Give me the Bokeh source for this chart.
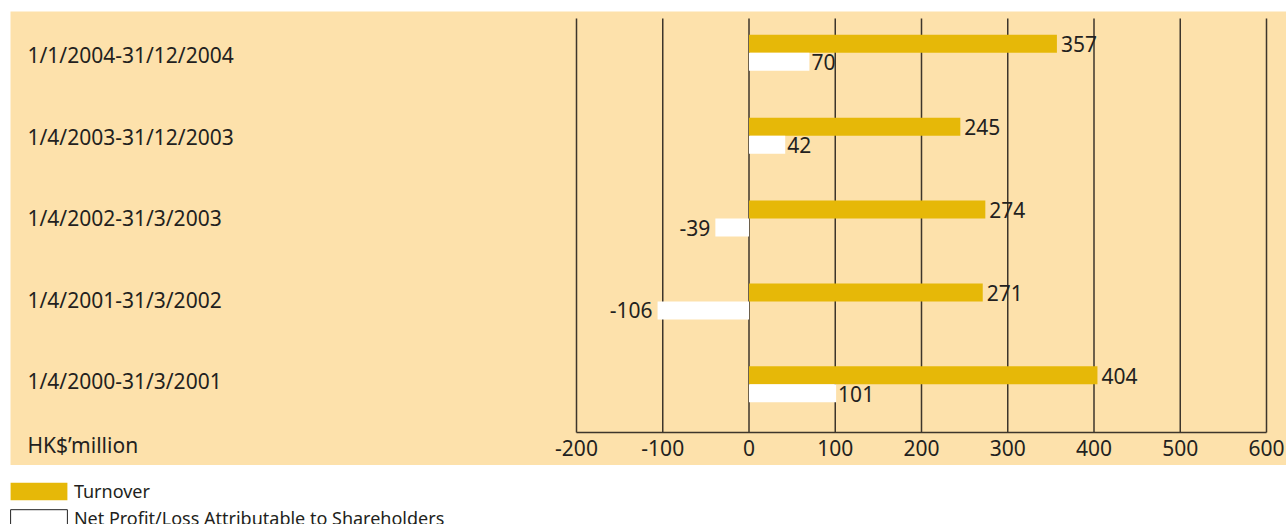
from bokeh.plotting import figure
from bokeh.models import (Range1d, LinearAxis, FixedTicker, BoxAnnotation, ColumnDataSource,
                          Legend, LegendItem)
from bokeh.core.properties import value
from bokeh.embed import file_html
from bokeh.resources import INLINE

# ---------------- data ----------------
periods = ["1/1/2004-31/12/2004", "1/4/2003-31/12/2003", "1/4/2002-31/3/2003",
           "1/4/2001-31/3/2002", "1/4/2000-31/3/2001"]
turnover = [357, 245, 274, 271, 404]
net_profit = [70, 42, -39, -106, 101]
x_ticks = [-200, -100, 0, 100, 200, 300, 400, 500, 600]
unit_label = "HK$\u2019million"
legend_labels = ["Turnover", "Net Profit/Loss Attributable to Shareholders"]

# ---------------- layout / style ----------------
W, H = 1286, 524
FONT = "Noto Sans"
TXT = "#231f20"
GOLD = "#e6b808"
BEIGE = "#fde1ab"
GRID = "#3d352b"
NAN = float("nan")

PX0, PXU = 748.5, 0.8625          # pixel of x=0, pixels per unit
PY0, PYU = 52.3, 82.875           # pixel of first row centre, pixels per row


def xd(px):
    return (px - PX0) / PXU


def yd(py):
    return (PY0 - py) / PYU


BAR_H = 18 / PYU

p = figure(width=W, height=H, output_backend="svg", toolbar_location=None,
           x_range=Range1d(xd(0), xd(W)), y_range=Range1d(yd(H), yd(0)),
           x_axis_location=None, y_axis_location=None, min_border=0,
           background_fill_color="white", border_fill_color="white", outline_line_color=None)
p.xgrid.visible = False
p.ygrid.visible = False

# beige panel
p.add_layout(BoxAnnotation(left=xd(10), right=xd(W), top=yd(11), bottom=yd(464.5),
                           fill_color=BEIGE, fill_alpha=1, line_color=None, level="underlay"))

# gridlines
p.segment(x0=x_ticks, x1=x_ticks, y0=[yd(432)] * len(x_ticks), y1=[yd(18)] * len(x_ticks),
          line_color=GRID, line_width=1.5)

rows = [-i for i in range(len(periods))]
src = ColumnDataSource(dict(y_t=[r + BAR_H / 2 for r in rows], y_n=[r - BAR_H / 2 for r in rows],
                            y=rows, t=turnover, n=net_profit, period=periods,
                            t_lab=[str(v) for v in turnover], n_lab=[str(v) for v in net_profit]))

p.hbar(y="y_t", left=0, right="t", height=BAR_H, source=src, fill_color=GOLD, line_color=None)
p.hbar(y="y_n", left=0, right="n", height=BAR_H, source=src, fill_color="white", line_color=None)

# value labels
p.text(x="t", y="y_t", text="t_lab", source=src, x_offset=4, y_offset=0.5,
       text_align="left", text_baseline="middle", text_font=value(FONT),
       text_font_size="21px", text_color=TXT)

pos = [i for i, v in enumerate(net_profit) if v >= 0]
neg = [i for i, v in enumerate(net_profit) if v < 0]
src_pos = ColumnDataSource(dict(x=[net_profit[i] for i in pos], y=[rows[i] - BAR_H / 2 for i in pos],
                                s=[str(net_profit[i]) for i in pos]))
src_neg = ColumnDataSource(dict(x=[net_profit[i] for i in neg], y=[rows[i] - BAR_H / 2 for i in neg],
                                s=[str(net_profit[i]) for i in neg]))
p.text(x="x", y="y", text="s", source=src_pos, x_offset=2, y_offset=0.5,
       text_align="left", text_baseline="middle", text_font=value(FONT),
       text_font_size="21px", text_color=TXT)
p.text(x="x", y="y", text="s", source=src_neg, x_offset=-5, y_offset=0,
       text_align="right", text_baseline="middle", text_font=value(FONT),
       text_font_size="21px", text_color=TXT)

# period labels (left aligned at the panel's left margin)
label_y = [yd(54.5 + 81.6 * i) for i in range(len(periods))]
p.text(x=[xd(27)] * len(periods), y=label_y, text=periods,
       text_align="left", text_baseline="middle", text_font=value(FONT),
       text_font_size="21px", text_color=TXT)
p.text(x=[xd(27)], y=[yd(444)], text=[unit_label], text_align="left", text_baseline="middle",
       text_font=value(FONT), text_font_size="21px", text_color=TXT)

# x axis
ax = LinearAxis(fixed_location=yd(432), bounds=(x_ticks[0], x_ticks[-1]),
                ticker=FixedTicker(ticks=x_ticks),
                major_label_overrides={t: str(t) for t in x_ticks})
ax.axis_line_color = GRID
ax.axis_line_width = 1.5
ax.major_tick_line_color = None
ax.minor_tick_line_color = None
ax.major_label_standoff = 1
ax.major_label_text_font = FONT
ax.major_label_text_font_size = "21px"
ax.major_label_text_color = TXT
p.add_layout(ax, "below")

# legend (hidden one-point renderers carrying the legend swatch styles)
# Bokeh insets area swatches by 10% per side, so the glyph box is 57/0.8 x 18/0.8
r_gold = p.quad(left=[NAN], right=[NAN], top=[NAN], bottom=[NAN], fill_color=GOLD, line_color=None)
r_white = p.quad(left=[NAN], right=[NAN], top=[NAN], bottom=[NAN], fill_color="white",
                 line_color="#222222", line_width=1)
legend = Legend(items=[LegendItem(label=legend_labels[0], renderers=[r_gold]),
                       LegendItem(label=legend_labels[1], renderers=[r_white])],
                location=(2.9, -5.75), orientation="vertical", padding=0, margin=0,
                spacing=3, glyph_width=71, glyph_height=22, label_height=18,
                label_standoff=0, label_text_font=FONT, label_text_font_size="18px",
                label_text_color=TXT, border_line_color=None, background_fill_alpha=0)
p.add_layout(legend)

open("out.html", "w").write(file_html(p, INLINE))
